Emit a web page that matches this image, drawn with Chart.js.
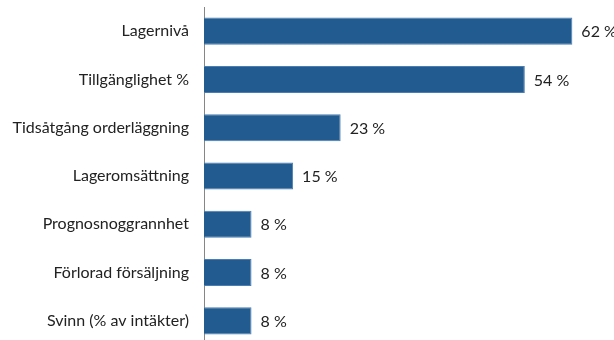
<!DOCTYPE html>
<html>
<head>
<meta charset="utf-8">
<script src="https://cdn.jsdelivr.net/npm/chart.js@4/dist/chart.umd.min.js"></script>
<style>
  html, body { margin: 0; padding: 0; background: #fff; overflow: hidden; }
  #wrap { width: 614px; height: 345px; position: relative; }
</style>
</head>
<body>
<div id="wrap"><canvas id="myChart"></canvas></div>
<script>
const categories = [
  'Lagernivå',
  'Tillgänglighet %',
  'Tidsåtgång orderläggning',
  'Lageromsättning',
  'Prognosnoggrannhet',
  'Förlorad försäljning',
  'Svinn (% av intäkter)'
];
const values = [62, 54, 23, 15, 8, 8, 8];
const valueLabels = ['62 %', '54 %', '23 %', '15 %', '8 %', '8 %', '8 %'];

const FONT = 'Lato, "Open Sans", sans-serif';

// labels drawn to the right of each bar
const barLabels = {
  id: 'barLabels',
  afterDatasetsDraw(chart) {
    const ctx = chart.ctx;
    const meta = chart.getDatasetMeta(0);
    ctx.save();
    ctx.font = '16px ' + FONT;
    ctx.fillStyle = '#222';
    ctx.textAlign = 'left';
    ctx.textBaseline = 'middle';
    meta.data.forEach((bar, i) => {
      ctx.fillText(valueLabels[i], bar.x + 9, bar.y + 1);
    });
    ctx.restore();
  }
};

const ctx = document.getElementById('myChart').getContext('2d');
new Chart(ctx, {
  type: 'bar',
  data: {
    labels: categories,
    datasets: [{
      data: values,
      backgroundColor: '#215b8f',
      borderColor: '#4a7db3',
      borderWidth: 1,
      borderSkipped: 'start',
      barPercentage: 0.56,
      categoryPercentage: 1
    }]
  },
  options: {
    indexAxis: 'y',
    responsive: true,
    maintainAspectRatio: false,
    animation: false,
    layout: { padding: { top: 7, right: 6, left: 0, bottom: 0 } },
    plugins: {
      legend: { display: false },
      tooltip: { enabled: false }
    },
    scales: {
      x: {
        display: false,
        min: 0,
        max: 68
      },
      y: {
        grid: { display: false, drawTicks: false },
        border: { display: true, color: '#868686', width: 1 },
        ticks: {
          color: '#222',
          padding: 15,
          font: { family: FONT, size: 16 }
        },
        afterFit(scale) {
          scale.width = 204;
          scale.paddingTop = 0;
          scale.paddingBottom = 0;
        }
      }
    }
  },
  plugins: [barLabels]
});
</script>
</body>
</html>
